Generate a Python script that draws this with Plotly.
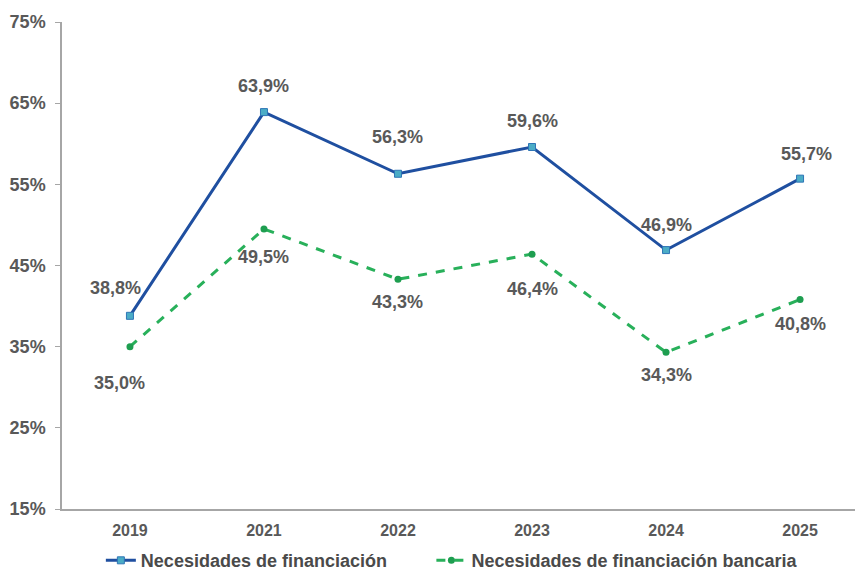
import plotly.graph_objects as go

years = ["2019", "2021", "2022", "2023", "2024", "2025"]
necesidades = [38.8, 63.9, 56.3, 59.6, 46.9, 55.7]
bancaria = [35.0, 49.5, 43.3, 46.4, 34.3, 40.8]
tick_vals = [15, 25, 35, 45, 55, 65, 75]
tick_text = ["15%", "25%", "35%", "45%", "55%", "65%", "75%"]

blue_shift = [28, 26, 37, 26, 25, 25]
green_shift = [-36, -28, -23, -35, -23, -24]

FONT = "Liberation Sans, Arial, sans-serif"
GRAY = "#595959"

fig = go.Figure()
fig.add_trace(go.Scatter(
    x=years, y=necesidades, mode="lines+markers",
    name="Necesidades de financiación", legend="legend",
    line=dict(color="#1F4FA0", width=3),
    marker=dict(symbol="square", size=7, color="#4BACC6", line=dict(color="#2E75B6", width=1)),
))
fig.add_trace(go.Scatter(
    x=years, y=bancaria, mode="lines+markers",
    name="Necesidades de financiación bancaria", legend="legend2",
    line=dict(color="#28B05A", width=3, dash="dash"),
    marker=dict(symbol="circle", size=7, color="#1E9E50"),
))

def fmt(v):
    return f"{v:.1f}".replace(".", ",") + "%"

for i, v in enumerate(necesidades):
    fig.add_annotation(x=i, y=v, xref="x", yref="y", text=f"<b>{fmt(v)}</b>", showarrow=False,
                       yshift=blue_shift[i], xshift=-14 if i == 0 else (6 if i == 5 else 0),
                       font=dict(family=FONT, size=18, color=GRAY))
for i, v in enumerate(bancaria):
    fig.add_annotation(x=i, y=v, xref="x", yref="y", text=f"<b>{fmt(v)}</b>", showarrow=False,
                       yshift=green_shift[i], xshift=-10 if i == 0 else 0,
                       font=dict(family=FONT, size=18, color=GRAY))

legend_font = dict(family=FONT, size=18, color="#4A4A4A", weight="bold")
fig.update_layout(
    width=855, height=572,
    margin=dict(l=62, r=0, t=22, b=63, autoexpand=False),
    plot_bgcolor="white", paper_bgcolor="white",
    font=dict(family=FONT, size=15, color=GRAY),
    showlegend=True,
    legend=dict(orientation="h", x=0.049, xanchor="left", y=-0.068, yanchor="top",
                font=legend_font, itemwidth=30),
    legend2=dict(orientation="h", x=0.4658, xanchor="left", y=-0.068, yanchor="top",
                 font=legend_font, itemwidth=30),
    xaxis=dict(
        type="category", range=[-0.507, 5.41], automargin=False,
        showline=True, linecolor="#A6A6A6", linewidth=1.5,
        showgrid=False, ticks="", zeroline=False,
        tickvals=years, ticktext=[f"<b>{y}</b>" for y in years],
        tickfont=dict(family=FONT, size=16, color=GRAY), ticklabelstandoff=6,
    ),
    yaxis=dict(
        range=[15, 75], tickvals=tick_vals, automargin=False,
        ticktext=[f"<b>{t}</b>" for t in tick_text],
        showline=True, linecolor="#A6A6A6", linewidth=1.5,
        showgrid=False, zeroline=False,
        ticks="outside", ticklen=5, tickcolor="#A6A6A6", tickwidth=1,
        ticklabelstandoff=6,
        tickfont=dict(family=FONT, size=18, color=GRAY),
    ),
)
fig.write_html("out.html", config={"displayModeBar": False},
               post_script="document.body.style.margin='0';document.body.style.overflow='hidden';")
